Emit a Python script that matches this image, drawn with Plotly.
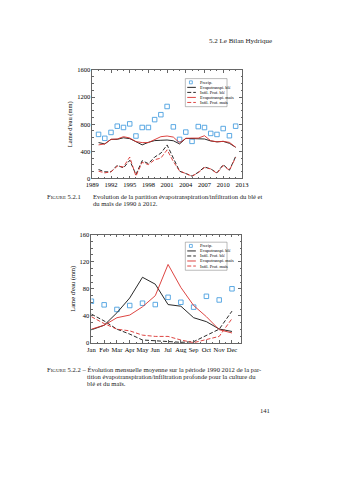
import plotly.graph_objects as go

# Annual series, 1990-2012 (mm)
years = list(range(1990, 2013))
precip_year = [650, 592, 679, 771, 752, 805, 626, 752, 752, 868, 941, 1062,
               761, 576, 684, 547, 765, 751, 664, 649, 736, 630, 771]
et_ble_year = [529, 509, 577, 577, 600, 587, 543, 495, 533, 558, 563, 567,
               556, 509, 591, 591, 591, 582, 553, 540, 547, 518, 460]
inf_ble_year = [131, 97, 97, 194, 155, 267, 58, 262, 218, 315, 373, 494,
                300, 106, 72, 33, 91, 169, 140, 82, 203, 121, 324]
et_mais_year = [495, 509, 577, 582, 616, 597, 543, 529, 529, 567, 616, 626,
                610, 525, 591, 595, 595, 630, 556, 540, 547, 532, 460]
inf_mais_year = [107, 82, 97, 180, 170, 315, 34, 238, 204, 276, 300, 422,
                 250, 110, 72, 33, 85, 160, 140, 75, 190, 120, 310]

# Monthly means over 1990-2012 (mm)
months = ["Jan", "Feb", "Mar", "Apr", "May", "Jun",
          "Jul", "Aug", "Sep", "Oct", "Nov", "Dec"]
month_idx = list(range(1, 13))
precip_month = [61.6, 56.3, 49.5, 55.3, 58.7, 56.7, 67.4, 60.1, 52.9, 68.9, 63.5, 80.0]
et_ble_month = [19.4, 26.2, 44.6, 66.4, 97.0, 86.8, 56.7, 54.3, 37.3, 31.5, 20.6, 17.0]
inf_ble_month = [42.7, 32.5, 20.4, 13.1, 4.4, 3.4, 2.9, 1.0, 1.9, 11.6, 20.4, 47.0]
et_mais_month = [20.4, 26.2, 37.3, 41.2, 53.4, 69.8, 115.9, 82.0, 55.3, 38.8, 19.6, 14.8]
inf_mais_month = [38.8, 28.6, 20.4, 17.9, 11.6, 9.7, 9.7, 4.4, 0.5, 4.8, 9.7, 35.9]

year_ticks = list(range(1989, 2014, 3))

series_names = ["Precip.", "Evapotranspi. blé", "Infil. Prof. blé",
                "Evapotranspi. maïs", "Infil. Prof. maïs"]

BLUE = "#4a9fe0"
RED = "#d9302c"
BLACK = "#111111"
DASH = "4px,2px"
FONT = "Liberation Serif"
W, H = 339, 480


def px(x):
    return x / W


def py(y):
    return 1 - y / H


fig = go.Figure()

styles = [
    None,
    dict(color=BLACK, width=0.9),
    dict(color=BLACK, width=0.9, dash=DASH),
    dict(color=RED, width=0.9),
    dict(color=RED, width=0.9, dash=DASH),
]


def add_series(x, values, xa, ya):
    p = values[0]
    fig.add_trace(go.Scatter(x=x, y=p, mode="markers", name=series_names[0],
                             marker=dict(symbol="square-open", size=4.5, color=BLUE,
                                         line=dict(width=0.9, color=BLUE)),
                             xaxis=xa, yaxis=ya, showlegend=False))
    for name, vals, st in zip(series_names[1:], values[1:], styles[1:]):
        fig.add_trace(go.Scatter(x=x, y=vals, mode="lines", name=name, line=st,
                                 xaxis=xa, yaxis=ya, showlegend=False))


add_series(years, [precip_year, et_ble_year, inf_ble_year, et_mais_year, inf_mais_year],
           "x", "y")
add_series(month_idx, [precip_month, et_ble_month, inf_ble_month, et_mais_month,
                       inf_mais_month], "x2", "y2")


def add_legend(top):
    """Boxed key in the upper right part of a panel (top = box top, px)."""
    shapes = [dict(type="rect", xref="paper", yref="paper",
                   x0=px(186), x1=px(229.5), y0=py(top + 28.5), y1=py(top),
                   line=dict(color="#777", width=0.5), fillcolor="white", layer="above")]
    annos = []
    for i, name in enumerate(series_names):
        yy = top + 3.8 + 5.1 * i
        if i == 0:
            shapes.append(dict(type="rect", xref="paper", yref="paper",
                               x0=px(190.3), x1=px(193.3), y0=py(yy + 1.5), y1=py(yy - 1.5),
                               line=dict(color=BLUE, width=0.8), layer="above"))
        else:
            st = styles[i]
            shapes.append(dict(type="line", xref="paper", yref="paper",
                               x0=px(188), x1=px(197), y0=py(yy), y1=py(yy),
                               line=dict(color=st["color"], width=0.9,
                                         dash=st.get("dash", "solid")),
                               layer="above"))
        annos.append(dict(text=name, x=px(199), y=py(yy), xref="paper", yref="paper",
                          xanchor="left", yanchor="middle", showarrow=False,
                          font=dict(family=FONT, size=4.4, color="black")))
    return shapes, annos


s1, a1 = add_legend(75.7)
s2, a2 = add_legend(241.7)

axis_common = dict(showline=True, linecolor="#666", linewidth=0.6, mirror="ticks",
                   ticks="inside", ticklen=3, tickwidth=0.5, tickcolor="#666",
                   showgrid=False, zeroline=False, tickangle=0,
                   tickfont=dict(family=FONT, size=6.5, color="black"))

fig.update_layout(
    width=W, height=H, margin=dict(l=0, r=0, t=0, b=0),
    paper_bgcolor="white", plot_bgcolor="white", showlegend=False,
    font=dict(family=FONT, color="black"),
    xaxis=dict(axis_common, domain=[px(89), px(245)], range=[1989, 2013],
               tickvals=year_ticks, anchor="y",
               minor=dict(dtick=1, ticks="inside", ticklen=1.5, tickcolor="#666")),
    yaxis=dict(axis_common, domain=[py(177), py(67)], range=[0, 1600], dtick=400,
               anchor="x",
               title=dict(text="Lame d'eau (mm)", standoff=3,
                          font=dict(family=FONT, size=6.5)),
               minor=dict(dtick=100, ticks="inside", ticklen=1.5, tickcolor="#666")),
    xaxis2=dict(axis_common, domain=[px(88), px(244)], range=[1, 12.7],
                tickvals=month_idx, ticktext=months, anchor="y2",
                minor=dict(dtick=0.5, tick0=1, ticks="inside", ticklen=1.5,
                           tickcolor="#666")),
    yaxis2=dict(axis_common, domain=[py(344), py(234)], range=[0, 160], dtick=40,
                anchor="x2",
                title=dict(text="Lame d'eau (mm)", standoff=3,
                           font=dict(family=FONT, size=6.5)),
                minor=dict(dtick=10, ticks="inside", ticklen=1.5, tickcolor="#666")),
    shapes=s1 + s2,
)

CAP = 6.6
SC = "<span style='font-size:5px'>IGURE</span>"
texts = [
    ("5.2 Le Bilan Hydrique", 278, 38, "right", 7.0),
    ("F" + SC + " 5.2.1", 40, 195.3, "left", CAP),
    ("Evolution de la partition évapotranspiration/infiltration du blé et", 88, 195.3, "left", CAP),
    ("du maïs de 1990 à 2012.", 88, 202.8, "left", CAP),
    ("F" + SC + " 5.2.2 – Évolution mensuelle moyenne sur la période 1990 2012 de la par-",
     40, 370.5, "left", CAP),
    ("tition évapotranspiration/infiltration profonde pour la culture du", 81, 377.8, "left", CAP),
    ("blé et du maïs.", 81, 385.1, "left", CAP),
    ("141", 276, 413, "right", CAP),
]
for t, x, y, anchor, size in texts:
    fig.add_annotation(text=t, x=px(x), y=py(y), xref="paper", yref="paper",
                       xanchor=anchor, yanchor="middle", showarrow=False,
                       font=dict(family=FONT, size=size, color="#222"))
for a in a1 + a2:
    fig.add_annotation(**a)

fig.write_html("out.html")
